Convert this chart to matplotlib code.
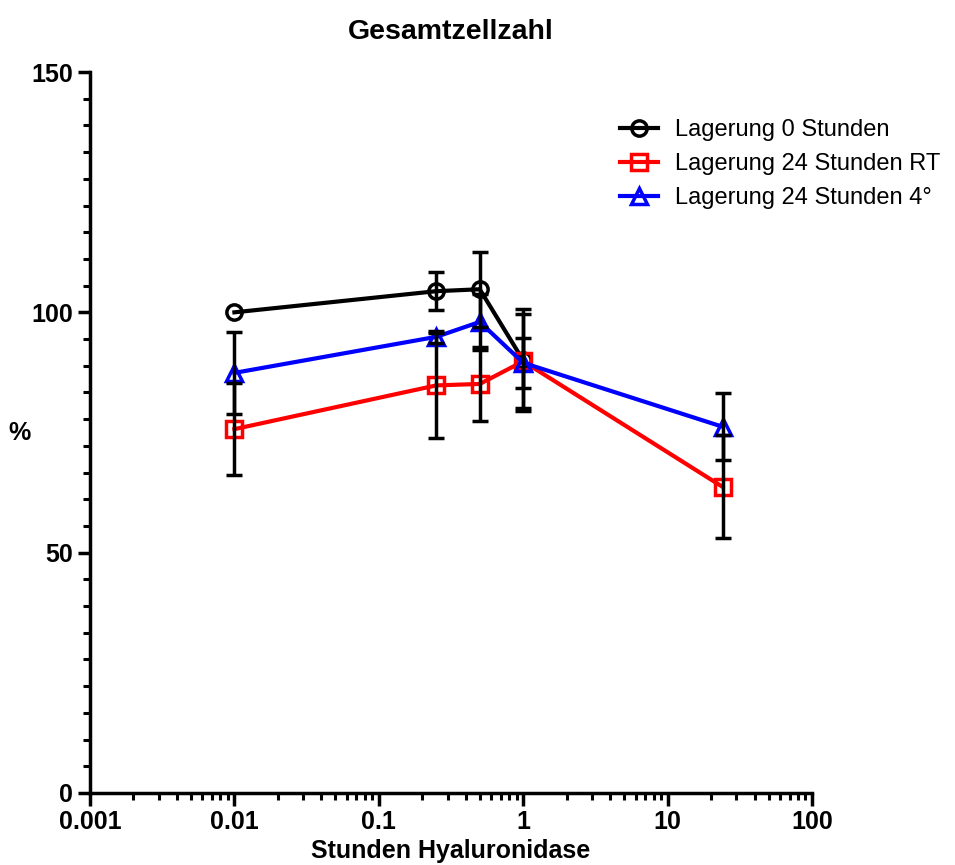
import matplotlib

matplotlib.use("Agg")
import matplotlib.pyplot as plt
from matplotlib.ticker import FixedLocator, LogLocator, MultipleLocator, NullFormatter


HOURS = [0.01, 0.25, 0.5, 1, 24]

LABELS = [
    "Lagerung 0 Stunden",
    "Lagerung 24 Stunden RT",
    "Lagerung 24 Stunden 4°",
]

# mean / error per storage condition (black has no 24 h point)
ZERO_H_X = [0.01, 0.25, 0.5, 1]
ZERO_H_Y = [100.0, 104.4, 104.8, 90.0]
ZERO_H_ERR = [0.0, 3.9, 7.8, 10.6]

RT_Y = [75.7, 84.8, 85.1, 89.8, 63.7]
RT_ERR = [9.6, 10.9, 7.7, 9.8, 10.7]

COLD_Y = [87.4, 94.9, 98.0, 89.5, 76.2]
COLD_ERR = [8.6, 1.2, 5.8, 5.2, 7.0]

plt.rcParams["font.family"] = ["Liberation Sans", "DejaVu Sans"]

fig = plt.figure(figsize=(9.55, 8.65), dpi=100)
ax = fig.add_axes([90 / 955, 72 / 865, 722 / 955, 721 / 865])

series = [
    (ZERO_H_X, ZERO_H_Y, ZERO_H_ERR, "black", "o", 11),
    (HOURS, RT_Y, RT_ERR, "red", "s", 11.5),
    (HOURS, COLD_Y, COLD_ERR, "blue", "^", 12),
]

for (x, y, err, color, marker, size), label in zip(series, LABELS):
    ax.plot(
        x, y,
        color=color, linewidth=3, marker=marker, markersize=size,
        markerfacecolor="none", markeredgecolor=color, markeredgewidth=2.5,
        label=label, zorder=3,
    )
    # only points that have a spread get a bar
    pts = [(xi, yi, ei) for xi, yi, ei in zip(x, y, err) if ei > 0]
    ax.errorbar(
        [p[0] for p in pts], [p[1] for p in pts], yerr=[p[2] for p in pts],
        fmt="none", ecolor="black", elinewidth=2.5, capsize=6, capthick=2.5,
        zorder=4,
    )

ax.set_xscale("log")
ax.set_xlim(0.001, 100)
ax.set_ylim(0, 150)

ax.xaxis.set_major_locator(FixedLocator([0.001, 0.01, 0.1, 1, 10, 100]))
ax.set_xticklabels(["0.001", "0.01", "0.1", "1", "10", "100"])
ax.xaxis.set_minor_locator(LogLocator(base=10, subs=range(2, 10), numticks=20))
ax.xaxis.set_minor_formatter(NullFormatter())

ax.yaxis.set_major_locator(FixedLocator([0, 50, 100, 150]))
ax.yaxis.set_minor_locator(MultipleLocator(50 / 9))

for side in ["top", "right"]:
    ax.spines[side].set_visible(False)
for side in ["left", "bottom"]:
    ax.spines[side].set_linewidth(2.5)

ax.tick_params(which="major", direction="out", length=9, width=2.5,
               labelsize=18, pad=3)
ax.tick_params(which="minor", direction="out", length=5, width=2.2)
for lbl in ax.get_xticklabels() + ax.get_yticklabels():
    lbl.set_fontweight("bold")

ax.set_xlabel("Stunden Hyaluronidase", fontsize=18, fontweight="bold",
              labelpad=4)
ax.set_ylabel("%", fontsize=18, fontweight="bold", rotation=0, va="center")
ax.yaxis.set_label_coords(-0.097, 0.5)
ax.set_title("Gesamtzellzahl", fontsize=20.5, fontweight="bold", pad=24)

ax.legend(
    loc="upper left", bbox_to_anchor=(0.705, 0.964), frameon=False,
    fontsize=17, handlelength=1.6, handletextpad=0.7, labelspacing=0.5,
)

fig.savefig("out.png", dpi=100)
